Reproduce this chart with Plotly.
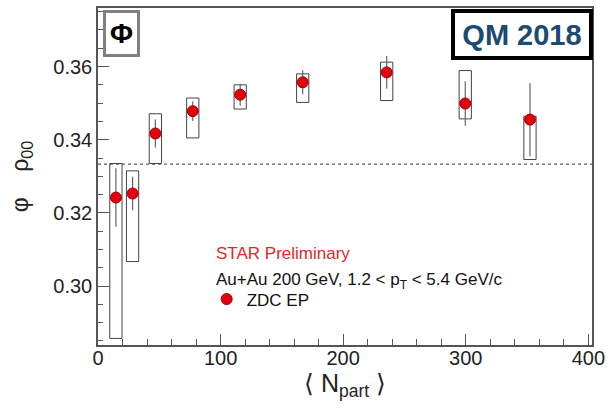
import plotly.graph_objects as go

# <N_part> per centrality class
n_part = [14.6, 28.2, 46.8, 77.3, 116.0, 167.0, 235.5, 299.6, 352.4]
# phi-meson spin density matrix element rho_00 (ZDC event plane)
rho00 = [0.3242, 0.3253, 0.3417, 0.3478, 0.3523, 0.3557, 0.3584, 0.3499, 0.3455]
# statistical uncertainty
stat_err = [0.0080, 0.0046, 0.0038, 0.0027, 0.0030, 0.0033, 0.0045, 0.0061, 0.0100]
# systematic band edges
sys_low = [0.2857, 0.3067, 0.3335, 0.3405, 0.3484, 0.3502, 0.3507, 0.3457, 0.3346]
sys_high = [0.3335, 0.3315, 0.3471, 0.3514, 0.3550, 0.3580, 0.3612, 0.3589, 0.3464]
# half-width of the systematic boxes along <N_part>
box_half = 5.0
# unpolarised reference value
rho_ref = 1.0 / 3.0

y_ticks = [0.30, 0.32, 0.34, 0.36]
x_ticks = [0, 100, 200, 300, 400]

FONT = "Liberation Sans, Arial, Helvetica, sans-serif"
AXIS_COLOR = "#555555"

fig = go.Figure()

fig.add_trace(go.Scatter(
    x=n_part, y=rho00, mode="markers", name="ZDC EP",
    marker=dict(color="#e3000f", size=11, line=dict(color="#a00000", width=1)),
    error_y=dict(type="data", array=stat_err, visible=True,
                 color="#666666", thickness=1.2, width=0),
))

shapes = []
for xc, lo, hi in zip(n_part, sys_low, sys_high):
    shapes.append(dict(type="rect", xref="x", yref="y",
                       x0=xc - box_half, x1=xc + box_half, y0=lo, y1=hi,
                       line=dict(color="#444444", width=1), fillcolor="rgba(0,0,0,0)",
                       layer="below"))
shapes.append(dict(type="line", xref="paper", yref="y", x0=0, x1=1,
                   y0=rho_ref, y1=rho_ref,
                   line=dict(color="#333333", width=1, dash="dot"), layer="below"))

annotations = [
    dict(text="<b>Φ</b>", xref="paper", yref="paper", x=0.01, y=0.995,
         xanchor="left", yanchor="top", showarrow=False,
         font=dict(family=FONT, size=28, color="black"),
         width=31, height=41, borderpad=0, bordercolor="#808080", borderwidth=3,
         bgcolor="white"),
    dict(text="<b>QM 2018</b>", xref="paper", yref="paper", x=1.002, y=0.997,
         xanchor="right", yanchor="top", showarrow=False,
         font=dict(family=FONT, size=29, color="#1b4b70"),
         width=134, height=43, borderpad=0, bordercolor="black", borderwidth=4,
         bgcolor="white"),
    dict(text="STAR Preliminary", xref="paper", yref="paper", x=0.235, y=0.272,
         xanchor="left", yanchor="middle", showarrow=False,
         font=dict(family=FONT, size=17, color="#e4262b")),
    dict(text="Au+Au 200 GeV, 1.2 < p<sub>T</sub> < 5.4 GeV/c", xref="paper", yref="paper",
         x=0.235, y=0.19, xanchor="left", yanchor="middle", showarrow=False,
         font=dict(family=FONT, size=17, color="#111111")),
]

fig.update_layout(
    width=611, height=408,
    margin=dict(l=98, r=17, t=6, b=63),
    paper_bgcolor="white", plot_bgcolor="white",
    font=dict(family=FONT, color="#222222"),
    shapes=shapes, annotations=annotations,
    showlegend=True,
    legend=dict(x=0.22, y=0.135, xanchor="left", yanchor="middle",
                bgcolor="rgba(0,0,0,0)", font=dict(family=FONT, size=17, color="#111111"),
                itemwidth=30),
    xaxis=dict(range=[0, 403], tickvals=x_ticks, ticks="inside", ticklen=11,
               tickcolor=AXIS_COLOR, showline=True, linecolor=AXIS_COLOR, linewidth=1.5,
               mirror=True, showgrid=False, zeroline=False, ticklabelstandoff=-6,
               tickfont=dict(family=FONT, size=20, color="#222222"),
               minor=dict(dtick=20, ticks="inside", ticklen=6, tickcolor=AXIS_COLOR),
               title=dict(text="⟨ N<sub>part</sub> ⟩", standoff=2,
                          font=dict(family=FONT, size=25, color="#222222"))),
    yaxis=dict(range=[0.2839, 0.3760], tickvals=y_ticks, tickformat=".2f",
               ticks="inside", ticklen=11, tickcolor=AXIS_COLOR,
               showline=True, linecolor=AXIS_COLOR, linewidth=1.5,
               mirror=True, showgrid=False, zeroline=False,
               tickfont=dict(family=FONT, size=20, color="#222222"),
               minor=dict(dtick=0.005, tick0=0.30, ticks="inside", ticklen=5,
                          tickcolor=AXIS_COLOR),
               title=dict(text="φ    ρ<sub>00</sub>", standoff=18,
                          font=dict(family=FONT, size=23, color="#222222"))),
)

fig.write_html("out.html")
